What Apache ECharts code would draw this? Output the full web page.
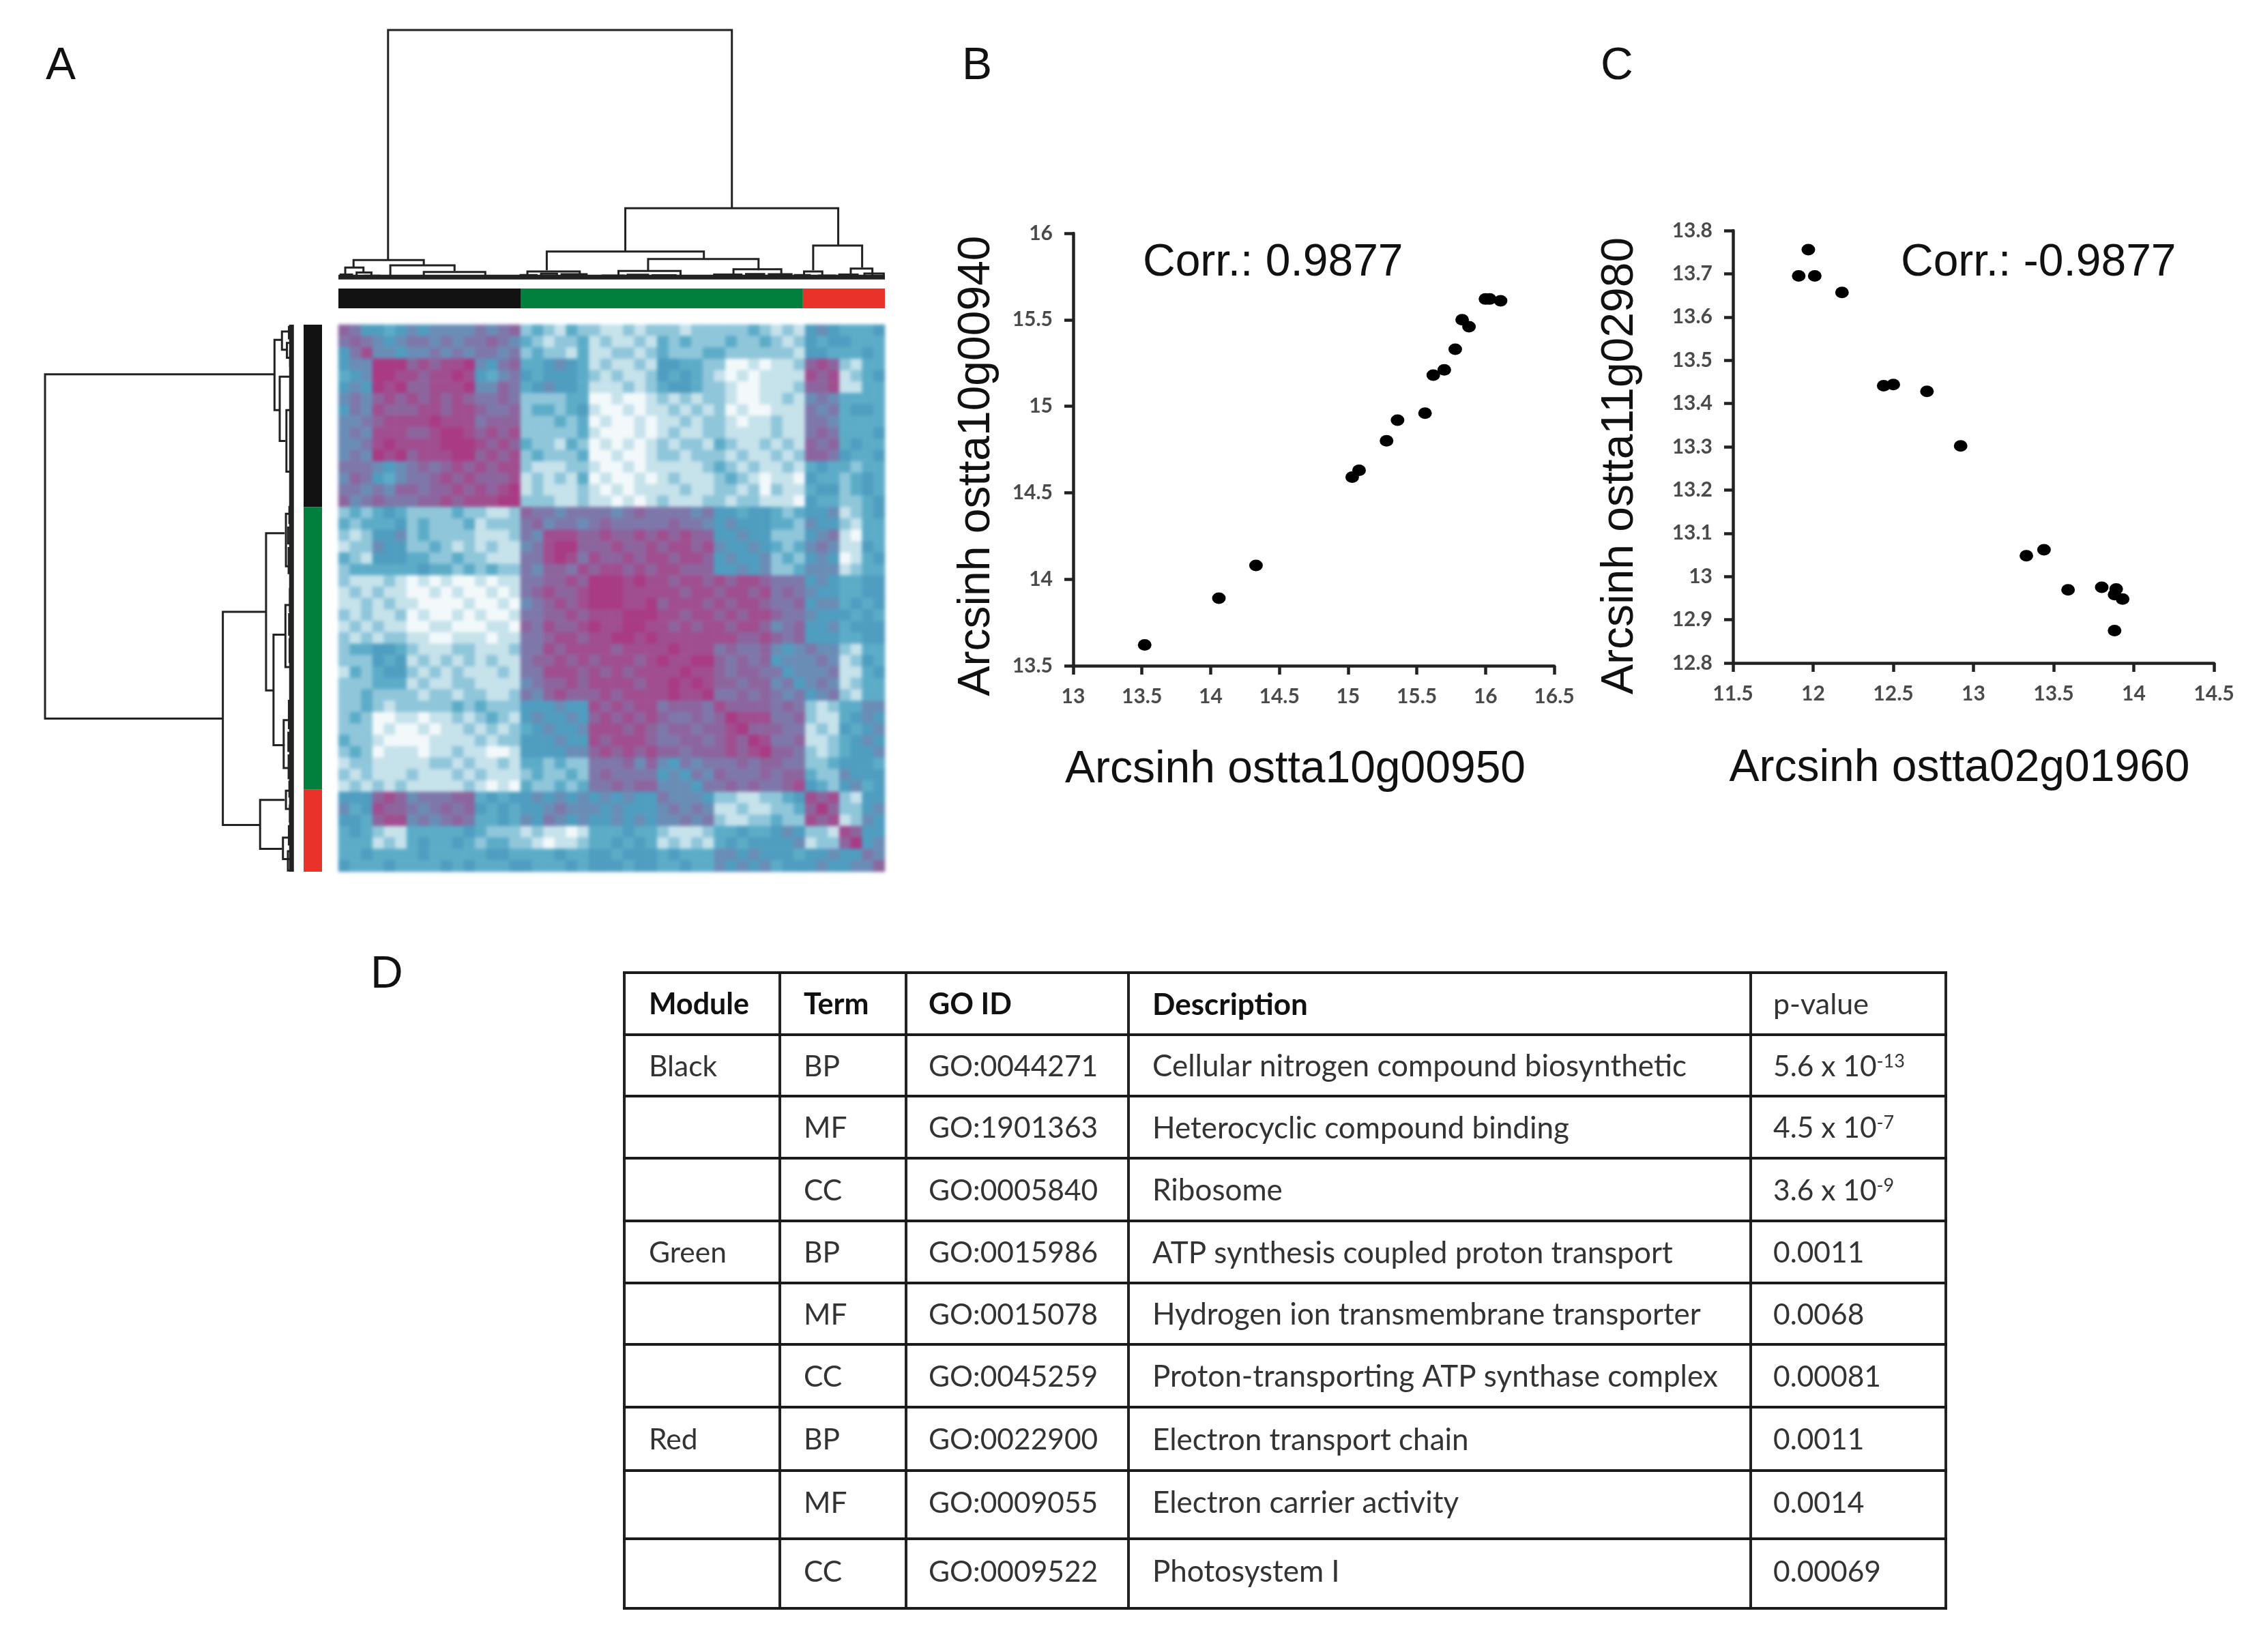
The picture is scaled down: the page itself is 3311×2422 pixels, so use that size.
<!DOCTYPE html>
<html><head><meta charset="utf-8">
<style>html,body{margin:0;padding:0;background:#fff}#c{width:3311px;height:2422px}</style>
<script src="https://cdn.jsdelivr.net/npm/echarts@6/dist/echarts.min.js"></script>
</head><body><div id="c"></div>
<script>
// ---------- DATA ----------
const corrTriangle = [
"7","67","468",
"455 9","345 99","454 989",
"565 787 8","465 877 78","556 788 889",
"565 888 778 9","556 898 888 99","565 989 788 899",
"666 545 676 787 8","576 435 667 878 77","665 657 767 787 878","756 766 677 878 8899",
"232 343 222 232 2112 7","323 334 232 223 1222 67",
"212 445 232 222 1112 65 8","122 544 223 212 1211 56 89","321 444 332 232 2111 66 898","233 333 343 323 2322 65 7768",
"211 121 010 100 1011 66 7787 9","121 211 001 010 0101 67 8778 99","112 121 100 001 0010 56 7878 999",
"212 112 010 010 1001 66 7787 8889","121 211 001 100 0110 76 8778 98899","212 122 110 011 1011 66 7887 889989",
"233 443 211 122 1112 66 8788 887888 8","222 434 121 212 1211 67 7878 788878 98","132 344 212 121 1121 66 8887 878788 889",
"222 333 121 122 1111 56 7787 888878 8989","223 222 212 212 2112 65 7877 787888 89889",
"223 212 222 232 3222 44 4544 878788 67776 8","232 001 101 121 2321 45 4454 787878 76676 79","222 010 010 112 1212 34 5445 888787 67767 789",
"322 100 001 111 2122 44 4544 878887 66776 7879","232 011 101 121 1001 44 4455 787878 77677 78789",
"122 111 112 212 1121 33 2322 666757 54656 66767 7","212 111 211 121 2111 23 2232 676666 45465 76667 67","121 212 111 112 1010 32 2323 667677 55546 67676 678",
"444 787 566 677 3434 45 4545 454544 65554 22112 234 8","534 877 656 767 4343 44 5655 545444 56565 11211 223 79","443 788 565 676 3343 54 6545 445454 55656 21122 322 878",
"343 211 333 334 3222 12 1101 333433 21112 33433 454 221 8","333 121 343 343 2332 21 0112 334343 12121 34344 445 122 79",
"334 333 343 333 3443 33 3433 443444 34333 55454 443 445 44 6","433 343 333 434 3334 43 3343 444344 33433 54545 344 454 45 57"
];
const modules = [[0,16,"Black"],[16,40.8,"Green"],[40.8,48,"Red"]];
// dendrogram merges: from, to, height, height of left child, height of right child
const merges = [
[4.36,34.56,100,7.6,28.4],[25.2,43.9,28.4,11,13.4],[18.3,32.1,11,3.5,8],[27.2,36.9,8,3.5,3.5],
[24.6,30.05,3.2,1,1],[34.7,38.9,3.9,1,1],[16.6,21.2,3,1,1],[41.7,46,13.4,3.5,4.6],
[40.9,42.5,3,1,1],[45,46.9,4.2,1,1],[1.33,7.5,7.6,4.6,5.5],[4.56,10.2,5.5,1,3.2],[7.5,12.9,2.8,1,1],
[0.6,2.2,4.6,1.5,2.6],[0.2,1.2,1.8,0.5,0.5],[1.6,2.9,2.6,1,1],[2.3,3.6,1.3,0.5,0.5],
[3.2,5.2,1.1,0.5,0.5],[5.6,7.2,0.9,0.3,0.3],[8.2,10,1.2,0.4,0.4],[10.6,12.2,1.1,0.4,0.4],[13.2,15.6,1,0.4,0.4],
[16,17.4,1.6,0.5,0.5],[17.8,19.2,2.1,0.5,0.5],[19.6,21.8,1.9,0.5,0.5],[20.6,22.6,1.2,0.5,0.5],[23.2,25.1,1.4,0.4,0.4],
[25.4,27.2,1.7,0.4,0.4],[27.6,29.6,1.5,0.4,0.4],[30.3,32.8,1.1,0.4,0.4],[33,35.4,1.8,0.4,0.4],[35.8,37.4,2,0.4,0.4],
[37.8,39.8,1.9,0.4,0.4],[40.1,41.4,1.6,0.4,0.4],[42.2,43.6,1.4,0.4,0.4],[44,45.6,1.8,0.4,0.4],[46.2,47.9,2.2,0.4,0.4],
[0,48,0.2,0.2,0.2],[0,48,0.8,0.8,0.8],[0,48,1.3,1.3,1.3]
];
const geneX_B = [13.52,14.06,14.33,15.03,15.08,15.28,15.36,15.56,15.62,15.70,15.78,15.83,15.88,16.00,16.03,16.11];
const geneY_B = [13.62,13.89,14.08,14.59,14.63,14.80,14.92,14.96,15.18,15.21,15.33,15.50,15.46,15.62,15.62,15.61];
const geneX_C = [11.97,11.91,12.01,12.18,12.44,12.50,12.71,12.92,13.33,13.44,13.59,13.80,13.89,13.88,13.93,13.88];
const geneY_C = [13.756,13.695,13.695,13.657,13.441,13.444,13.428,13.302,13.048,13.062,12.969,12.975,12.971,12.958,12.948,12.875];
const tableHeader = ["Module","Term","GO ID","Description","p-value"];
const moduleCol = ["Black","","","Green","","","Red","",""];
const termCol = ["BP","MF","CC","BP","MF","CC","BP","MF","CC"];
const goCol = ["GO:0044271","GO:1901363","GO:0005840","GO:0015986","GO:0015078","GO:0045259","GO:0022900","GO:0009055","GO:0009522"];
const descCol = ["Cellular nitrogen compound biosynthetic","Heterocyclic compound binding","Ribosome","ATP synthesis coupled proton transport","Hydrogen ion transmembrane transporter","Proton-transporting ATP synthase complex","Electron transport chain","Electron carrier activity","Photosystem I"];
const pCol = ["5.6 x 10{s|-13}","4.5 x 10{s|-7}","3.6 x 10{s|-9}","0.0011","0.0068","0.00081","0.0011","0.0014","0.00069"];

// ---------- LAYOUT & STYLE ----------
const H = {l:496,t:476,w:801,h:802};
const ink = '#222';
const heatData = [];
const rows = corrTriangle.map(r => r.replace(/ /g,''));
rows.forEach((r,i)=>{ for(let j=0;j<r.length;j++){ const v=+r[j];
  heatData.push([j,i,v]); if(i!==j) heatData.push([i,j,v]); }});
const idx = Array.from({length:48},(_,i)=>i);
const moduleColors = {Black:'#121212',Green:'#00803c',Red:'#e8322a'};

function hiddenVal(grid,min,max,inverse){return {type:'value',gridIndex:grid,min,max,inverse:!!inverse,show:false};}
const grids = [
 {left:H.l,top:H.t,width:H.w,height:H.h},
 {left:H.l,top:44,width:H.w,height:365},
 {left:66,top:H.t,width:364,height:H.h},
 {left:H.l,top:423,width:H.w,height:29},
 {left:445,top:H.t,width:27,height:H.h},
 {left:1573,top:342,width:705,height:634},
 {left:2540,top:338,width:705,height:634}
];
const tickFmt = v => String(+v.toFixed(1));
function scatterAxis(grid,min,max,iv,name,gap,pad,isX,margin){
  return {type:'value',gridIndex:grid,min,max,interval:iv,name,nameLocation:'middle',nameGap:gap,
    nameRotate:isX?0:90,
    nameTextStyle:{fontFamily:'Liberation Sans',fontSize:66,color:'#111',padding:[0,pad,0,0]},
    splitLine:{show:false},
    axisLine:{show:true,onZero:false,lineStyle:{color:ink,width:4.5}},
    axisTick:{show:true,length:13,lineStyle:{color:ink,width:4.5}},
    axisLabel:{formatter:tickFmt,margin,fontFamily:'Lato',fontWeight:'bold',fontSize:30,color:'#4a4a4a',hideOverlap:false,showMinLabel:true,showMaxLabel:true}};
}
const xAxes = [
 {type:'category',gridIndex:0,data:idx,show:false},
 hiddenVal(1,0,48), hiddenVal(2,0,100,true), hiddenVal(3,0,48), hiddenVal(4,0,1),
 scatterAxis(5,13,16.5,0.5,'Arcsinh ostta10g00950',120,54,true,30),
 scatterAxis(6,11.5,14.5,0.5,'Arcsinh ostta02g01960',122,41,true,30)
];
const yAxes = [
 {type:'category',gridIndex:0,data:idx,inverse:true,show:false},
 hiddenVal(1,0,100), hiddenVal(2,0,48,true), hiddenVal(3,0,1), hiddenVal(4,0,48,true),
 scatterAxis(5,13.5,16,0.5,'Arcsinh ostta10g00940',108,48,false,30),
 scatterAxis(6,12.8,13.8,0.1,'Arcsinh ostta11g02980',132,56,false,30)
];
function dendro(grid,flip){
  return {type:'custom',xAxisIndex:grid,yAxisIndex:grid,clip:false,silent:true,encode:{x:0,y:1},
    data:merges,
    renderItem(p,api){
      const a=api.value(0),b=api.value(1),h=api.value(2),ha=api.value(3),hb=api.value(4);
      const c=(u,v)=>flip?api.coord([v,u]):api.coord([u,v]);
      return {type:'polyline',shape:{points:[c(a,ha),c(a,h),c(b,h),c(b,hb)]},
        style:{stroke:'#222',fill:null,lineWidth:3}};
    }};
}
function colorBar(grid,flip){
  return {type:'custom',xAxisIndex:grid,yAxisIndex:grid,silent:true,encode:{x:0,y:1},
    data:modules.map(m=>({value:[m[0],m[1]],name:m[2]})),
    renderItem(p,api){
      const s=api.value(0),e=api.value(1),nm=modules[p.dataIndex][2];
      const c0=flip?api.coord([0,s]):api.coord([s,0]), c1=flip?api.coord([1,e]):api.coord([e,1]);
      const x=Math.min(c0[0],c1[0]),y=Math.min(c0[1],c1[1]);
      return {type:'rect',shape:{x,y,width:Math.abs(c1[0]-c0[0]),height:Math.abs(c1[1]-c0[1])},
        style:{fill:moduleColors[nm]}};
    }};
}
function scatter(grid,xs,ys){
  return {type:'scatter',xAxisIndex:grid,yAxisIndex:grid,symbol:'circle',symbolSize:[20,17],silent:true,
    itemStyle:{color:'#000',opacity:1},data:xs.map((x,i)=>[x,ys[i]])};
}

// table & text
const colEdges=[915,1143,1328,1654,2566,2852];
const rowEdges=[1426,1517,1607,1698,1790,1881,1971,2063,2156,2256,2358];
const textX=[951,1178,1361,1689,2599];
const g=[];
function txt(text,x,y,size,opt){g.push({type:'text',x:x,y:y,silent:true,z:10,style:Object.assign({text,fontSize:size,fontFamily:'Lato',fill:'#333',align:'left',verticalAlign:'middle'},opt||{})});}
colEdges.forEach(x=>g.push({type:'line',silent:true,shape:{x1:x,y1:rowEdges[0]-2,x2:x,y2:rowEdges[10]+2},style:{stroke:'#222',lineWidth:4}}));
rowEdges.forEach(y=>g.push({type:'line',silent:true,shape:{x1:colEdges[0]-2,y1:y,x2:colEdges[5]+2,y2:y},style:{stroke:'#1a1a1a',lineWidth:4}}));
tableHeader.forEach((t,i)=>txt(t,textX[i],(rowEdges[0]+rowEdges[1])/2+2,i===3?44:43,i<4?{fontWeight:'bold',fill:'#111'}:{}));
[moduleCol,termCol,goCol,descCol,pCol].forEach((col,ci)=>col.forEach((t,ri)=>{
  const dy = ri<7 ? 2 : -2;
  if(t) txt(t,textX[ci],(rowEdges[ri+1]+rowEdges[ri+2])/2+dy,ci===3?44:42.5,ci===4?{rich:{s:{fontSize:27,fontFamily:'Lato',fill:'#333',verticalAlign:'top',lineHeight:40}}}:{});
}));
const panelStyle={fontFamily:'Liberation Sans',fill:'#111'};
txt('A',67,98,66,panelStyle); txt('B',1410,98,66,panelStyle); txt('C',2346,98,66,panelStyle); txt('D',543,1430,66,panelStyle);
txt('Corr.: 0.9877',1675,386,66,panelStyle); txt('Corr.: -0.9877',2786,386,66,panelStyle);

const el=document.getElementById('c');
const chart=echarts.init(el,null,{renderer:'canvas'});
function soften(){
  const cs=el.querySelectorAll('canvas');
  cs.forEach((c,i)=>{ c.style.filter = i===0 ? 'blur(0.7px)' : 'blur(2.5px)'; });
}
chart.on('finished',soften);
chart.setOption({
  animation:false,backgroundColor:'#ffffff',tooltip:{show:false},
  grid:grids,xAxis:xAxes,yAxis:yAxes,
  visualMap:{show:false,type:'continuous',min:0,max:9,seriesIndex:0,
    inRange:{color:['#f3f9fb','#c6e2eb','#8fc6da','#5cacc8','#4f9dc0','#6a8db6','#7e78aa','#8d659e','#a04e90','#a93a84']}},
  series:[
    {type:'heatmap',zlevel:1,xAxisIndex:0,yAxisIndex:0,data:heatData,silent:true,progressive:0,itemStyle:{borderWidth:0}},
    dendro(1,false),dendro(2,true),colorBar(3,false),colorBar(4,true),
    scatter(5,geneX_B,geneY_B),scatter(6,geneX_C,geneY_C)
  ],
  graphic:g
});
soften();
</script></body></html>
